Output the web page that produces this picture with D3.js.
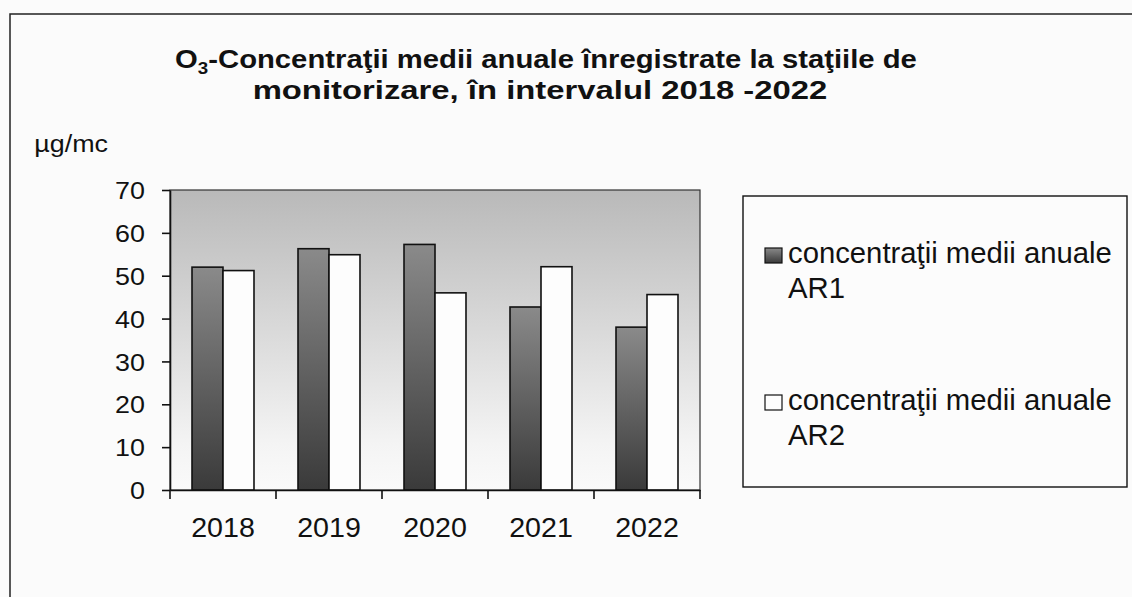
<!DOCTYPE html>
<html>
<head>
<meta charset="utf-8">
<script src="https://cdn.jsdelivr.net/npm/d3@7"></script>
<style>
  html, body { margin: 0; padding: 0; background: #fbfbfb; }
  text { font-family: "Liberation Sans", Arial, sans-serif; fill: #111; }
</style>
</head>
<body>
<script>
// date
const years = ['2018', '2019', '2020', '2021', '2022'];
const ar1 = [52.0, 56.3, 57.3, 42.7, 38.0];
const ar2 = [51.2, 54.9, 46.0, 52.1, 45.6];
const yTicks = [0, 10, 20, 30, 40, 50, 60, 70];
const seriesNames = ['concentraţii medii anuale AR1', 'concentraţii medii anuale AR2'];

const W = 1132, H = 597;
const svg = d3.select('body').append('svg').attr('width', W).attr('height', H);

// intinde textul pe orizontala (scanarea e putin latita)
function stretch(sel, sx) {
  sel.each(function () {
    const t = d3.select(this);
    const x0 = +t.attr('x') || 0;
    t.attr('transform', `translate(${x0},0) scale(${sx},1) translate(${-x0},0)`);
  });
}
function fitWidth(sel, w) {
  const n = sel.node().getComputedTextLength();
  stretch(sel, w / n);
}

const defs = svg.append('defs');
const bgGrad = defs.append('linearGradient').attr('id', 'plotbg').attr('x1', 0).attr('y1', 0).attr('x2', 0).attr('y2', 1);
bgGrad.append('stop').attr('offset', '0%').attr('stop-color', '#b9b9b9');
bgGrad.append('stop').attr('offset', '85%').attr('stop-color', '#f4f4f4');
bgGrad.append('stop').attr('offset', '100%').attr('stop-color', '#fafafa');

const barGrad = defs.append('linearGradient').attr('id', 'bardark').attr('x1', 0).attr('y1', 0).attr('x2', 0).attr('y2', 1);
barGrad.append('stop').attr('offset', '0%').attr('stop-color', '#8a8a8a');
barGrad.append('stop').attr('offset', '100%').attr('stop-color', '#3a3a3a');

// cadrul exterior
svg.append('rect').attr('x', 10).attr('y', 14).attr('width', W + 10).attr('height', H + 10)
  .attr('fill', 'none').attr('stroke', '#222').attr('stroke-width', 1.5);

// titlu
const t1 = svg.append('text').attr('x', 546).attr('y', 68).attr('text-anchor', 'middle')
  .attr('font-weight', 'bold').attr('font-size', 25);
t1.append('tspan').text('O');
t1.append('tspan').attr('font-size', 16).attr('dy', 6).text('3');
t1.append('tspan').attr('dy', -6).text('-Concentraţii medii anuale înregistrate la staţiile de');
fitWidth(t1, 742);
const t2 = svg.append('text').attr('x', 540).attr('y', 99).attr('text-anchor', 'middle')
  .attr('font-weight', 'bold').attr('font-size', 25)
  .text('monitorizare, în intervalul 2018 -2022');
fitWidth(t2, 575);

const unit = svg.append('text').attr('x', 108).attr('y', 152).attr('text-anchor', 'end')
  .attr('font-size', 24).text('µg/mc');
stretch(unit, 1.12);

const margin = { left: 170, right: 700, top: 190, bottom: 490 };
const x = d3.scaleBand().domain(years).range([margin.left, margin.right]).paddingInner(0).paddingOuter(0);
const y = d3.scaleLinear().domain([0, 70]).range([margin.bottom, margin.top]);
const xs = d3.scaleBand().domain([0, 1]).range([0, x.bandwidth()]).paddingInner(0).paddingOuter(0.71);

svg.append('rect').attr('x', margin.left).attr('y', margin.top)
  .attr('width', margin.right - margin.left).attr('height', margin.bottom - margin.top)
  .attr('fill', 'url(#plotbg)').attr('stroke', '#333').attr('stroke-width', 1.2);

const data = years.map((yr, i) => ({ yr, vals: [ar1[i], ar2[i]] }));
const groups = svg.selectAll('.grp').data(data).join('g').attr('class', 'grp')
  .attr('transform', d => `translate(${x(d.yr)},0)`);
groups.selectAll('rect').data(d => d.vals.map((v, k) => ({ v, k }))).join('rect')
  .attr('x', d => xs(d.k)).attr('width', xs.bandwidth())
  .attr('y', d => y(d.v)).attr('height', d => y(0) - y(d.v))
  .attr('fill', d => d.k === 0 ? 'url(#bardark)' : '#fdfdfd')
  .attr('stroke', '#111').attr('stroke-width', 1.6);

// axe
const yAxis = svg.append('g').attr('transform', `translate(${margin.left},0)`)
  .call(d3.axisLeft(y).tickValues(yTicks).tickSize(8).tickSizeOuter(0));
yAxis.select('.domain').attr('stroke', '#111').attr('stroke-width', 1.6);
yAxis.selectAll('.tick line').attr('stroke', '#111').attr('stroke-width', 1.6);
yAxis.selectAll('.tick text').attr('font-size', 24).attr('font-family', 'Liberation Sans, Arial, sans-serif')
  .attr('fill', '#111').attr('x', -25).attr('dy', '0.36em');
stretch(yAxis.selectAll('.tick text'), 1.12);

const xAxis = svg.append('g').attr('transform', `translate(0,${margin.bottom})`)
  .call(d3.axisBottom(x).tickSize(0).tickSizeOuter(0));
xAxis.select('.domain').attr('stroke', '#111').attr('stroke-width', 1.6);
xAxis.selectAll('.tick text').attr('font-size', 27).attr('font-family', 'Liberation Sans, Arial, sans-serif')
  .attr('fill', '#111').attr('y', 47).attr('dy', 0);
stretch(xAxis.selectAll('.tick text'), 1.06);
svg.append('g').selectAll('line').data(years.concat(['end'])).join('line')
  .attr('x1', (d, i) => i < years.length ? x(d) : margin.right)
  .attr('x2', (d, i) => i < years.length ? x(d) : margin.right)
  .attr('y1', margin.bottom).attr('y2', margin.bottom + 9)
  .attr('stroke', '#111').attr('stroke-width', 1.6);

// legenda
const lg = svg.append('g');
lg.append('rect').attr('x', 743).attr('y', 196).attr('width', 384).attr('height', 291)
  .attr('fill', '#fcfcfc').attr('stroke', '#111').attr('stroke-width', 1.4);
const legendY = [263, 410];
seriesNames.forEach((name, i) => {
  lg.append('rect').attr('x', 765).attr('y', legendY[i] - 15).attr('width', 17).attr('height', 15)
    .attr('fill', i === 0 ? 'url(#bardark)' : '#fdfdfd').attr('stroke', '#111').attr('stroke-width', 1.2);
  const words = name.split(' ');
  const a = lg.append('text').attr('x', 788).attr('y', legendY[i]).attr('font-size', 29)
    .text(words.slice(0, 3).join(' '));
  fitWidth(a, 324);
  const b = lg.append('text').attr('x', 788).attr('y', legendY[i] + 35).attr('font-size', 29)
    .text(words[3]);
  stretch(b, 324 / a.node().getComputedTextLength());
});
</script>
</body>
</html>
